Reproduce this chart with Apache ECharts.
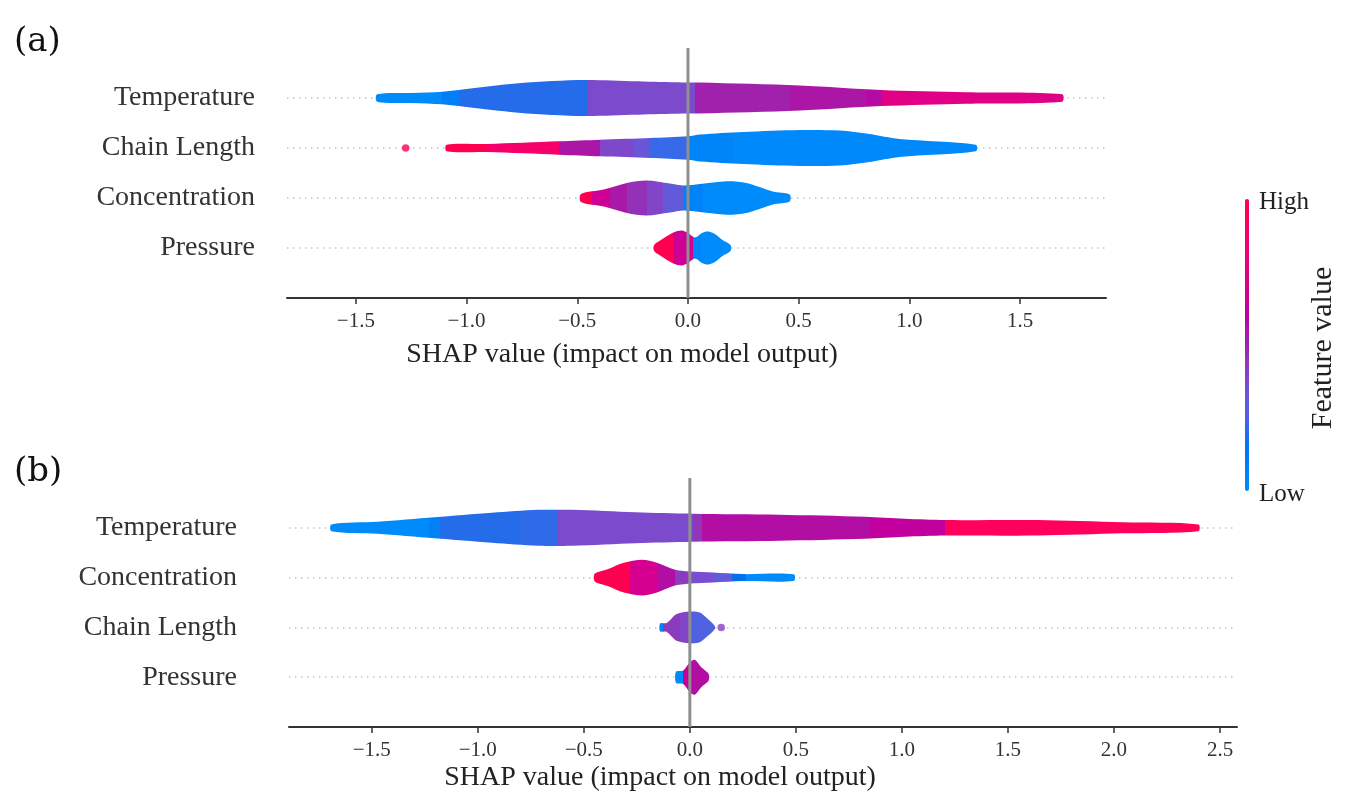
<!DOCTYPE html>
<html>
<head>
<meta charset="utf-8">
<title>SHAP violin summary</title>
<script src="https://cdn.jsdelivr.net/npm/echarts@6/dist/echarts.min.js"></script>
<style>
  html, body { margin: 0; padding: 0; background: #fff; }
  #main { width: 1361px; height: 810px; }
</style>
</head>
<body>
<div id="main"></div>
<script>
    // features, listed from the bottom row (y = 0) to the top row (y = 3)
    var featuresA = ['Pressure', 'Concentration', 'Chain Length', 'Temperature'];
    var featuresB = ['Pressure', 'Chain Length', 'Concentration', 'Temperature'];

    var ticksA = [-1.5, -1.0, -0.5, 0.0, 0.5, 1.0, 1.5];
    var ticksB = [-1.5, -1.0, -0.5, 0.0, 0.5, 1.0, 1.5, 2.0, 2.5];

    // violin outlines: [SHAP value, half width in row units]
    var tempA  = [[-1.404, 0.073], [-1.25, 0.10], [-1.11, 0.127], [-1.027, 0.167], [-0.802, 0.28], [-0.652, 0.33],
                  [-0.501, 0.36], [-0.427, 0.36], [-0.201, 0.33], [0.0, 0.31], [0.054, 0.31], [0.505, 0.25],
                  [0.872, 0.16], [1.255, 0.113], [1.69, 0.073]];
    var chainA = [[-1.09, 0.067], [-0.907, 0.08], [-0.584, 0.133], [-0.396, 0.167], [-0.171, 0.20], [0.0, 0.235],
                  [0.054, 0.27], [0.25, 0.32], [0.505, 0.36], [0.685, 0.35], [0.82, 0.28], [0.955, 0.18], [1.30, 0.067]];
    var concA  = [[-0.483, 0.08], [-0.38, 0.17], [-0.276, 0.30], [-0.186, 0.35], [-0.081, 0.29], [-0.02, 0.25],
                  [0.054, 0.28], [0.174, 0.335], [0.264, 0.30], [0.383, 0.13], [0.459, 0.07]];
    var presA  = [[-0.153, 0.06], [-0.126, 0.15], [-0.066, 0.31], [-0.028, 0.35], [0.0, 0.30], [0.032, 0.21],
                  [0.06, 0.29], [0.084, 0.33], [0.114, 0.30], [0.159, 0.15], [0.192, 0.06]];

    var tempB  = [[-1.69, 0.067], [-1.474, 0.12], [-1.204, 0.21], [-0.933, 0.30], [-0.716, 0.36], [-0.553, 0.36],
                  [-0.256, 0.31], [0.014, 0.28], [0.421, 0.26], [0.827, 0.22], [1.012, 0.18], [1.206, 0.155],
                  [1.64, 0.155], [2.044, 0.11], [2.398, 0.067]];
    var concB  = [[-0.448, 0.08], [-0.388, 0.17], [-0.311, 0.30], [-0.225, 0.36], [-0.155, 0.30], [-0.078, 0.17],
                  [0.0, 0.12], [0.109, 0.10], [0.249, 0.07], [0.49, 0.067]];
    var chainB = [[-0.14, 0.08], [-0.109, 0.09], [-0.062, 0.27], [0.0, 0.32], [0.047, 0.30], [0.085, 0.17], [0.117, 0.035]];
    var presB  = [[-0.065, 0.11], [-0.031, 0.135], [0.0, 0.30], [0.023, 0.35], [0.054, 0.20], [0.085, 0.09], [0.09, 0.05]];

    // colour strips: [SHAP value where strip starts, mean feature value 0..1]
    var tempAColor  = [[-1.404, 0.0], [-1.11, 0.08], [-1.035, 0.2], [-0.45, 0.37], [0.03, 0.51], [0.46, 0.55],
                       [0.805, 0.58], [0.872, 0.75]];
    var chainAColor = [[-1.09, 1.0], [-0.907, 0.88], [-0.584, 0.55], [-0.396, 0.38], [-0.25, 0.32], [-0.171, 0.22],
                       [0.009, 0.04], [0.21, 0.01]];
    var concAColor  = [[-0.483, 1.0], [-0.434, 0.67], [-0.351, 0.54], [-0.276, 0.46], [-0.186, 0.39], [-0.111, 0.30],
                       [-0.02, 0.06], [0.069, 0.0]];
    var presAColor  = [[-0.153, 1.0], [-0.066, 0.67], [0.021, 0.05], [0.06, 0.0]];

    var tempBColor  = [[-1.69, 0.0], [-1.232, 0.07], [-1.177, 0.2], [-0.797, 0.21], [-0.622, 0.37], [0.014, 0.45],
                       [0.056, 0.57], [0.85, 0.62], [1.204, 0.96]];
    var concBColor  = [[-0.448, 1.0], [-0.28, 0.7], [-0.155, 0.57], [-0.07, 0.43], [0.0, 0.36], [0.11, 0.30],
                       [0.20, 0.18], [0.264, 0.0]];
    var chainBColor = [[-0.14, 0.02], [-0.125, 0.43], [-0.047, 0.39], [0.0, 0.26]];
    var presBColor  = [[-0.065, 0.0], [-0.031, 0.65], [0.0, 0.57]];

    // single outlying points: [SHAP value, row, feature value]
    var outliersA = [[-1.275, 2, 1.0]];
    var outliersB = [[0.148, 1, 0.42]];

    var serif = "'Liberation Serif', 'Times New Roman', serif";

    // shap red_blue colour map (Lch interpolation)
    function shapColor(t) {
        t = Math.max(0, Math.min(1, t));
        var L = t < 0.5 ? 54 - 28 * t : 40 + 28 * (t - 0.5);
        var C = 70 + 20 * t;
        var H = 4.6588 + (0.35470565 + 2 * Math.PI - 4.6588) * t;
        var a = C * Math.cos(H), b = C * Math.sin(H);
        var fy = (L + 16) / 116, fx = fy + a / 500, fz = fy - b / 200;
        function finv(v) { return v > 6 / 29 ? v * v * v : 3 * (6 / 29) * (6 / 29) * (v - 4 / 29); }
        var X = 0.95047 * finv(fx), Y = finv(fy), Z = 1.08883 * finv(fz);
        var lin = [
            3.2406 * X - 1.5372 * Y - 0.4986 * Z,
            -0.9689 * X + 1.8758 * Y + 0.0415 * Z,
            0.0557 * X - 0.2040 * Y + 1.0570 * Z
        ];
        var rgb = lin.map(function (v) {
            v = v <= 0.0031308 ? 12.92 * v : 1.055 * Math.pow(Math.max(v, 0), 1 / 2.4) - 0.055;
            return Math.round(Math.max(0, Math.min(1, v)) * 255);
        });
        return 'rgb(' + rgb.join(',') + ')';
    }

    function stripStops(cols, xmin, xmax) {
        var stops = [];
        for (var i = 0; i < cols.length; i++) {
            var s = cols[i][0], e = i + 1 < cols.length ? cols[i + 1][0] : xmax;
            var c = shapColor(cols[i][1]);
            stops.push({ offset: Math.max(0, (s - xmin) / (xmax - xmin)), color: c });
            stops.push({ offset: Math.min(1, (e - xmin) / (xmax - xmin)), color: c });
        }
        return stops;
    }

    function tickText(v) {
        return (v < 0 ? '\u2212' : '') + Math.abs(v).toFixed(1);
    }

    function violinSeries(idx, profiles, colors) {
        return {
            type: 'custom',
            xAxisIndex: idx,
            yAxisIndex: idx,
            z: 3,
            silent: true,
            data: profiles.map(function (p, i) { return [p[0][0], i]; }),
            encode: { x: 0, y: 1 },
            renderItem: function (params, api) {
                var row = params.dataIndex;
                var prof = profiles[row];
                var upper = prof.map(function (p) { return api.coord([p[0], row + p[1]]); });
                var lower = prof.slice().reverse().map(function (p) { return api.coord([p[0], row - p[1]]); });
                var xmin = prof[0][0], xmax = prof[prof.length - 1][0];
                var x0 = api.coord([xmin, row])[0], x1 = api.coord([xmax, row])[0];
                return {
                    type: 'polygon',
                    shape: { points: upper.concat(lower), smooth: 0.3 },
                    style: {
                        fill: new echarts.graphic.LinearGradient(x0, 0, x1, 0, stripStops(colors[row], xmin, xmax), true),
                        stroke: null
                    }
                };
            }
        };
    }

    function rowLines(idx, features) {
        return {
            type: 'line',
            xAxisIndex: idx,
            yAxisIndex: idx,
            z: 1,
            silent: true,
            symbol: 'none',
            data: [],
            markLine: {
                z: 1,
                silent: true,
                symbol: ['none', 'none'],
                label: { show: false },
                lineStyle: { type: [1.5, 4.5], color: '#c4c4c4', width: 1.5 },
                data: features.map(function (f, i) { return { yAxis: i }; })
            }
        };
    }

    function zeroLine(idx) {
        return {
            type: 'line',
            xAxisIndex: idx,
            yAxisIndex: idx,
            z: 6,
            silent: true,
            symbol: 'none',
            lineStyle: { color: '#8f8f8f', width: 3 },
            data: [[0, -1], [0, 4]]
        };
    }

    function outlierSeries(idx, pts) {
        return {
            type: 'scatter',
            xAxisIndex: idx,
            yAxisIndex: idx,
            z: 4,
            silent: true,
            symbolSize: 7.5,
            data: pts.map(function (p) {
                return { value: [p[0], p[1]], itemStyle: { color: shapColor(p[2]) } };
            })
        };
    }

    function xAxisOf(idx, min, max, ticks) {
        return {
            gridIndex: idx,
            type: 'value',
            min: min,
            max: max,
            axisLine: { onZero: false, lineStyle: { color: '#333', width: 2 } },
            axisTick: { customValues: ticks, length: 6, lineStyle: { color: '#333', width: 1.5 } },
            axisLabel: {
                customValues: ticks,
                formatter: tickText,
                margin: 13,
                color: '#333',
                fontSize: 21,
                fontFamily: serif
            },
            splitLine: { show: false }
        };
    }

    function yAxisOf(idx, features, margin) {
        return {
            gridIndex: idx,
            type: 'value',
            min: -1,
            max: 4,
            interval: 1,
            axisLine: { show: false, onZero: false },
            axisTick: { show: false },
            splitLine: { show: false },
            axisLabel: {
                margin: margin,
                color: '#333',
                fontSize: 28,
                fontFamily: serif,
                formatter: function (v) { return features[v] || ''; }
            }
        };
    }

    var barStops = [];
    for (var k = 0; k <= 20; k++) {
        barStops.push({ offset: k / 20, color: shapColor(k / 20) });
    }

    var chart = echarts.init(document.getElementById('main'));

    chart.setOption({
        backgroundColor: '#ffffff',
        animation: false,
        grid: [
            { left: 287, top: 48, width: 819, height: 250 },
            { left: 289, top: 478, width: 948, height: 249 }
        ],
        xAxis: [
            xAxisOf(0, -1.811, 1.888, ticksA),
            xAxisOf(1, -1.89, 2.58, ticksB)
        ],
        yAxis: [
            yAxisOf(0, featuresA, 32),
            yAxisOf(1, featuresB, 52)
        ],
        graphic: [
            { type: 'text', x: 14, y: 42, style: { text: '(a)', font: "34px 'DejaVu Serif', serif", fill: '#111', verticalAlign: 'middle' } },
            { type: 'text', x: 14, y: 472, style: { text: '(b)', font: "34px 'DejaVu Serif', serif", fill: '#111', verticalAlign: 'middle' } },
            { type: 'text', x: 622, y: 355, style: { text: 'SHAP value (impact on model output)', font: '28px ' + serif, fill: '#222', align: 'center', verticalAlign: 'middle' } },
            { type: 'text', x: 660, y: 778, style: { text: 'SHAP value (impact on model output)', font: '28px ' + serif, fill: '#222', align: 'center', verticalAlign: 'middle' } },
            {
                type: 'rect',
                shape: { x: 1245, y: 199, width: 4, height: 292, r: 2 },
                style: { fill: new echarts.graphic.LinearGradient(0, 1, 0, 0, barStops) }
            },
            { type: 'text', x: 1259, y: 202, style: { text: 'High', font: '25px ' + serif, fill: '#222', verticalAlign: 'middle' } },
            { type: 'text', x: 1259, y: 494, style: { text: 'Low', font: '25px ' + serif, fill: '#222', verticalAlign: 'middle' } },
            { type: 'text', x: 1323, y: 348, rotation: Math.PI / 2, style: { text: 'Feature value', font: '30px ' + serif, fill: '#222', align: 'center', verticalAlign: 'middle' } }
        ],
        series: [
            rowLines(0, featuresA),
            violinSeries(0, [presA, concA, chainA, tempA], [presAColor, concAColor, chainAColor, tempAColor]),
            outlierSeries(0, outliersA),
            zeroLine(0),
            rowLines(1, featuresB),
            violinSeries(1, [presB, chainB, concB, tempB], [presBColor, chainBColor, concBColor, tempBColor]),
            outlierSeries(1, outliersB),
            zeroLine(1)
        ]
    });
</script>
</body>
</html>
